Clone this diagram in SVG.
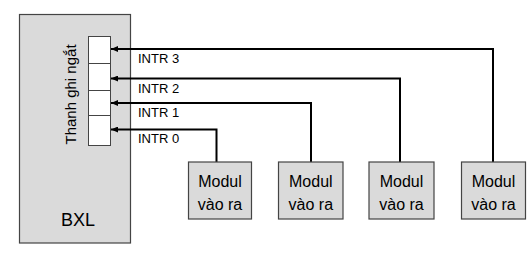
<svg xmlns="http://www.w3.org/2000/svg" width="529" height="255" viewBox="0 0 529 255">
<style>
.box{fill:#dadada;stroke:#444;stroke-width:1.2}
.cell{fill:#fff;stroke:#444;stroke-width:1}
.t{font-family:"Liberation Sans",Arial,sans-serif;fill:#000}
.lbl{font-size:13px}
.mod{font-size:16px;text-anchor:middle}
.w{fill:none;stroke:#000;stroke-width:2}
</style>
<defs>
<marker id="ah" markerWidth="8" markerHeight="6" refX="7" refY="3" orient="auto" markerUnits="userSpaceOnUse">
<path d="M0,0 L7,3 L0,6 Z" fill="#000"/>
</marker>
</defs>
<g id="bxl">
<rect class="box" x="19.5" y="14.5" width="111" height="228.5"/>
<text class="t" x="78" y="226" font-size="18" text-anchor="middle">BXL</text>
<text class="t" transform="translate(76,94.5) rotate(-90)" font-size="15" text-anchor="middle">Thanh ghi ngắt</text>
</g>
<g id="register">
<rect class="cell" x="88.5" y="36.5" width="22" height="27"/>
<rect class="cell" x="88.5" y="63.5" width="22" height="27"/>
<rect class="cell" x="88.5" y="90.5" width="22" height="25"/>
<rect class="cell" x="88.5" y="115.5" width="22" height="30"/>
</g>
<g id="connectors">
<path class="w" d="M493,162 V49 H111" marker-end="url(#ah)"/>
<path class="w" d="M400,162 V78.5 H111" marker-end="url(#ah)"/>
<path class="w" d="M311,162 V103 H111" marker-end="url(#ah)"/>
<path class="w" d="M216.5,162 V129.5 H111" marker-end="url(#ah)"/>
<text class="t lbl" x="138" y="63">INTR 3</text>
<text class="t lbl" x="138" y="93">INTR 2</text>
<text class="t lbl" x="138" y="117">INTR 1</text>
<text class="t lbl" x="138" y="143">INTR 0</text>
</g>
<g id="mod1">
<rect class="box" x="188.5" y="162" width="63" height="57"/>
<text class="t mod" x="220" y="187">Modul</text>
<text class="t mod" x="220" y="210">vào ra</text>
</g>
<g id="mod2">
<rect class="box" x="278.5" y="162" width="64.5" height="57"/>
<text class="t mod" x="310.8" y="187">Modul</text>
<text class="t mod" x="310.8" y="210">vào ra</text>
</g>
<g id="mod3">
<rect class="box" x="369" y="162" width="65" height="57"/>
<text class="t mod" x="401.5" y="187">Modul</text>
<text class="t mod" x="401.5" y="210">vào ra</text>
</g>
<g id="mod4">
<rect class="box" x="461.5" y="162" width="64" height="57"/>
<text class="t mod" x="493.5" y="187">Modul</text>
<text class="t mod" x="493.5" y="210">vào ra</text>
</g>
</svg>
